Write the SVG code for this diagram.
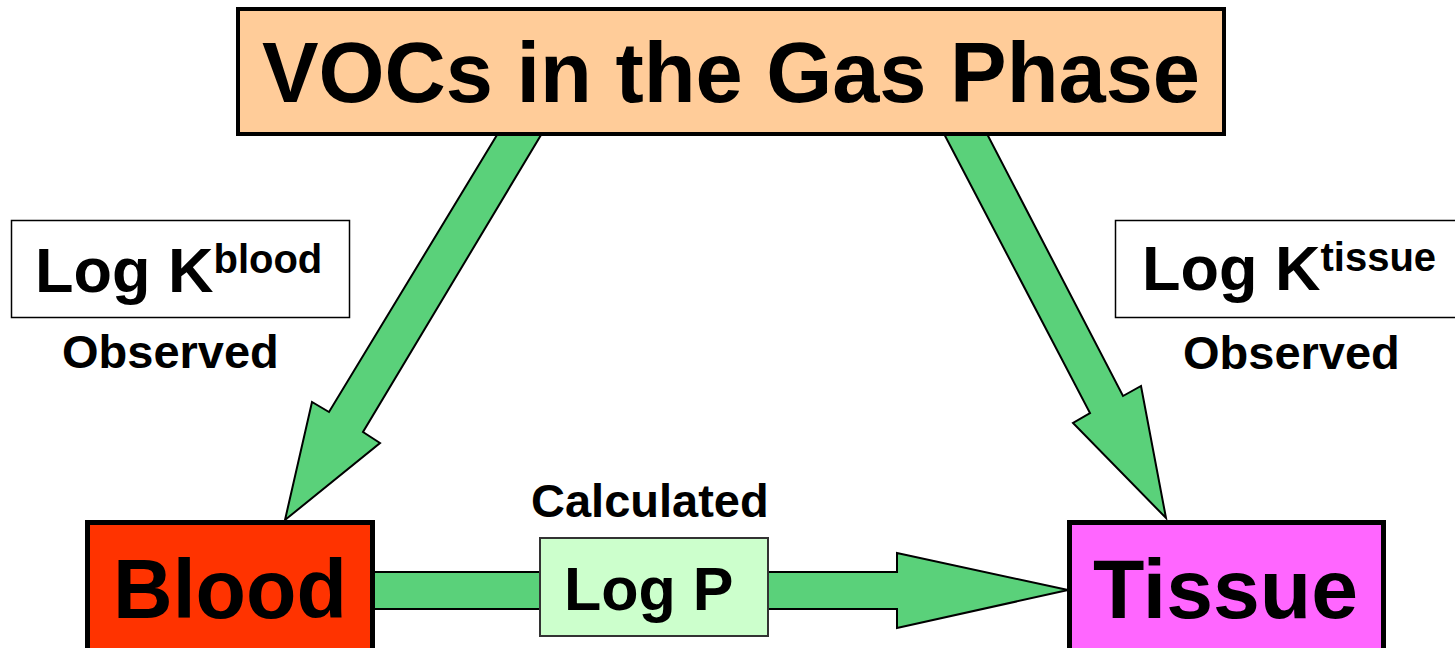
<svg xmlns="http://www.w3.org/2000/svg" width="1455" height="648" viewBox="0 0 1455 648">
<style>
text{font-family:"Liberation Sans",Arial,sans-serif;font-weight:bold;fill:#000}
.arrow{fill:#5AD17A;stroke:#000;stroke-width:2;stroke-linejoin:miter}
.big{stroke:#000;stroke-width:5}
.label{fill:#fff;stroke:#000;stroke-width:1.5}
</style>
<rect width="1455" height="648" fill="#fff"/>
<g id="connectors">
<polygon class="arrow" points="500,130 544,130 363,432 380,443 285,520 312,402 329,412"/>
<polygon class="arrow" points="942,130 985,130 1123,396 1141,386 1166,518 1073,423 1090,413"/>
<polygon class="arrow" points="373,572 897,572 897,553 1068,590 897,628 897,609 373,609"/>
</g>
<g id="gas">
<rect x="238" y="9" width="986" height="125" fill="#FFCC99" stroke="#000" stroke-width="4"/>
<text x="262" y="102" font-size="85" textLength="938" lengthAdjust="spacingAndGlyphs">VOCs in the Gas Phase</text>
</g>
<g id="blood">
<rect class="big" x="87.5" y="522.5" width="285" height="140" fill="#FF3300"/>
<text x="113" y="618" font-size="84" textLength="234" lengthAdjust="spacingAndGlyphs">Blood</text>
</g>
<g id="tissue">
<rect class="big" x="1069.5" y="522.5" width="314" height="140" fill="#FF66FF"/>
<text x="1093" y="618" font-size="84" textLength="265" lengthAdjust="spacingAndGlyphs">Tissue</text>
</g>
<g id="logp">
<rect x="540" y="538" width="228" height="98" fill="#CCFFCC" stroke="#333" stroke-width="2"/>
<text x="564" y="610" font-size="61">Log P</text>
<text x="531" y="517" font-size="47">Calculated</text>
</g>
<g id="kblood">
<rect class="label" x="11.5" y="220.5" width="338" height="97"/>
<text x="35" y="292" font-size="63">Log K<tspan font-size="40" dy="-19">blood</tspan></text>
<text x="62" y="368" font-size="47">Observed</text>
</g>
<g id="ktissue">
<rect class="label" x="1115.5" y="220.5" width="350" height="97"/>
<text x="1142" y="290" font-size="63">Log K<tspan font-size="40" dy="-19">tissue</tspan></text>
<text x="1183" y="369" font-size="47">Observed</text>
</g>
</svg>
